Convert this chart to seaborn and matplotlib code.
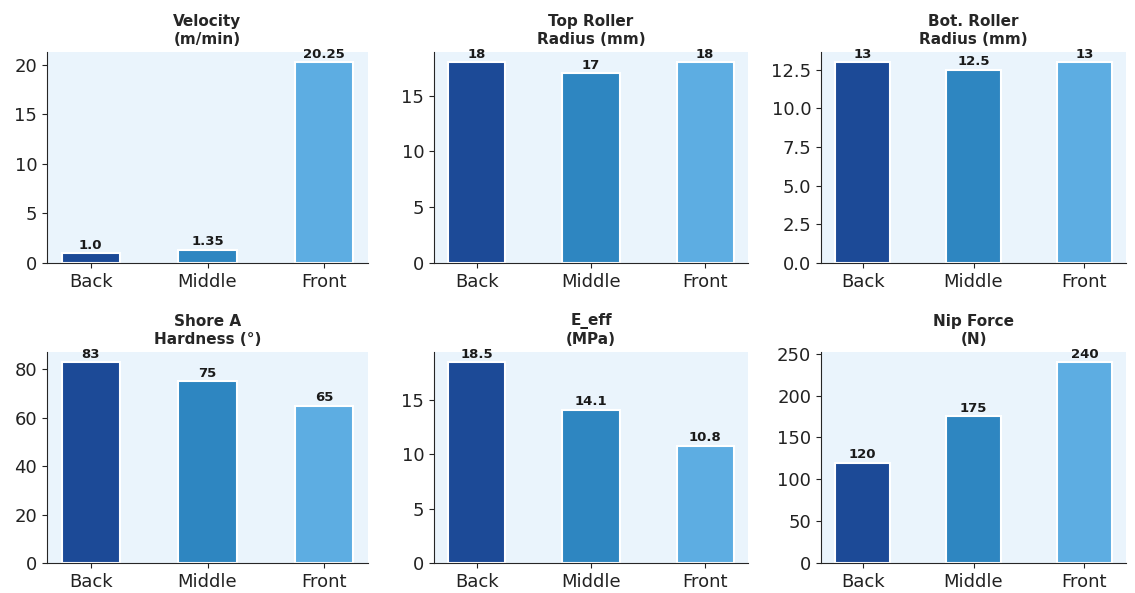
import pandas as pd
import seaborn as sns
import matplotlib.pyplot as plt
from matplotlib.ticker import MaxNLocator

# Roller positions and measured values per parameter
positions = ['Back', 'Middle', 'Front']
titles = ['Velocity\n(m/min)', 'Top Roller\nRadius (mm)', 'Bot. Roller\nRadius (mm)',
          'Shore A\nHardness (°)', 'E_eff\n(MPa)', 'Nip Force\n(N)']
velocity = [1.0, 1.35, 20.25]
top_radius = [18, 17, 18]
bot_radius = [13, 12.5, 13]
hardness = [83, 75, 65]
e_eff = [18.5, 14.1, 10.8]
nip_force = [120, 175, 240]
labels = [['1.0', '1.35', '20.25'], ['18', '17', '18'], ['13', '12.5', '13'],
          ['83', '75', '65'], ['18.5', '14.1', '10.8'], ['120', '175', '240']]

colors = ['#1c4a97', '#2e86c1', '#5dade2']

sns.set_style('ticks')
plt.rcParams['font.family'] = ['DejaVu Sans']

fig, axes = plt.subplots(2, 3, figsize=(11.35, 5.93), dpi=100)
all_values = [velocity, top_radius, bot_radius, hardness, e_eff, nip_force]

# axes boxes in pixels (left, right) per column and (top, bottom) per row
cols = [(47, 368), (434, 748), (821, 1126)]
rows = [(52, 263), (352, 563)]
W, H = 1135, 593

for i, (ax, vals, title, labs) in enumerate(zip(axes.flat, all_values, titles, labels)):
    l, r = cols[i % 3]
    t, b = rows[i // 3]
    ax.set_position([l / W, (H - b) / H, (r - l) / W, (b - t) / H])
    df = pd.DataFrame({'position': positions, 'value': vals})
    sns.barplot(data=df, x='position', y='value', hue='position', palette=colors,
                saturation=1, width=0.5, edgecolor='white', linewidth=1.5,
                legend=False, ax=ax)
    ax.set_facecolor('#eaf4fc')
    ax.set_xlim(-0.375, 2.375)
    ax.yaxis.set_major_locator(MaxNLocator(nbins=6, steps=[1, 2, 2.5, 5, 10]))
    for p, lab in zip(ax.patches, labs):
        ax.annotate(lab, (p.get_x() + p.get_width() / 2, p.get_height()),
                    ha='center', va='bottom', xytext=(0, 1), textcoords='offset points',
                    fontsize=9.5, fontweight='bold', color='#1a1a1a')
    ax.set_title(title, fontsize=11, fontweight='bold', pad=6, linespacing=1.25)
    ax.set_xlabel('')
    ax.set_ylabel('')
    ax.tick_params(labelsize=13, colors='#222222')
    sns.despine(ax=ax)

plt.savefig('out.png')
